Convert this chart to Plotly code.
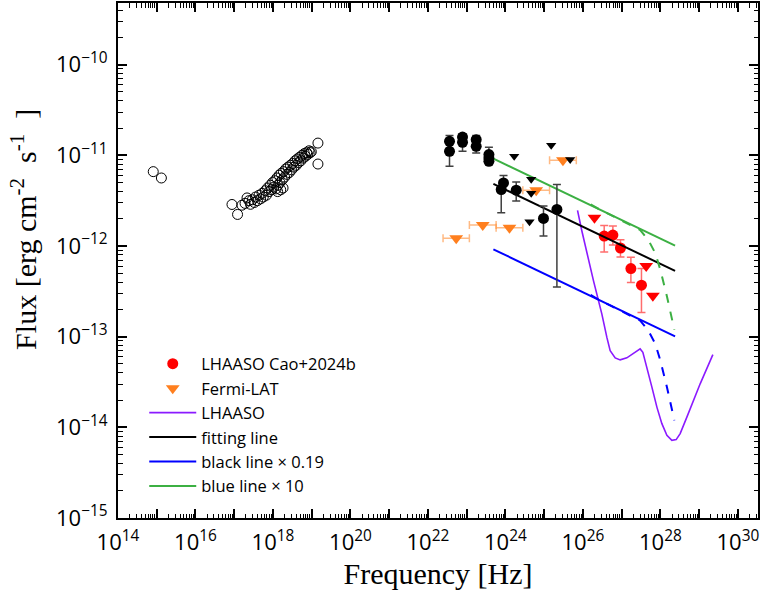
import numpy as np
import plotly.graph_objects as go

# ---------------- data (log10 values) ----------------
# open circles (optical / X-ray)
open_lognu = [14.91, 15.12, 16.942, 17.086,
              17.20, 17.28, 17.33, 17.38, 17.42, 17.47, 17.52, 17.55, 17.60, 17.64,
              17.68, 17.72, 17.75, 17.80, 17.83, 17.86, 17.90, 17.93, 17.96, 17.99,
              18.02, 18.05, 18.08, 18.10, 18.12, 18.13, 18.16, 18.18, 18.20, 18.21,
              18.24, 18.26, 18.27, 18.30, 18.33, 18.36, 18.39, 18.42, 18.45, 18.48,
              18.51, 18.54, 18.57, 18.60, 18.63, 18.66, 18.69, 18.72, 18.75, 18.78,
              18.81, 18.84, 18.87, 18.90, 18.93, 18.96, 18.99, 19.161, 19.161]
open_logF = [-11.18, -11.25, -11.542, -11.652,
             -11.55, -11.53, -11.47, -11.50, -11.54, -11.49, -11.52, -11.46, -11.50, -11.44,
             -11.48, -11.42, -11.46, -11.39, -11.44, -11.36, -11.40, -11.33, -11.38, -11.30,
             -11.35, -11.28, -11.37, -11.25, -11.40, -11.33, -11.22, -11.30, -11.38, -11.20,
             -11.27, -11.36, -11.18, -11.24, -11.15, -11.21, -11.13, -11.19, -11.11, -11.16,
             -11.09, -11.13, -11.06, -11.11, -11.04, -11.08, -11.02, -11.06, -11.00, -11.03,
             -10.98, -11.01, -10.97, -10.99, -10.95, -10.97, -10.96, -10.865, -11.096]

# black filled circles with error bars
blk_lognu = [22.557, 22.557, 22.893, 22.893, 23.246, 23.246, 23.574, 23.574, 23.574,
             23.951, 23.892, 24.279, 24.983, 25.329]
blk_logF = [-10.846, -10.956, -10.799, -10.857, -10.827, -10.901, -10.992, -11.030, -11.066,
            -11.304, -11.377, -11.385, -11.696, -11.597]
blk_logHi = [-10.780, -10.956, -10.762, -10.857, -10.780, -10.901, -10.912, -11.030, -11.066,
             -11.223, -11.377, -11.293, -11.560, -11.322]
blk_logLo = [-10.846, -11.121, -10.799, -10.956, -10.827, -10.975, -10.992, -11.030, -11.096,
             -11.304, -11.634, -11.505, -11.890, -12.451]

# black upper limits
blkul_lognu = [24.227, 24.666, 24.666, 24.622, 25.182, 25.672]
blkul_logF = [-11.011, -11.264, -11.418, -11.733, -10.890, -11.047]

# Fermi-LAT
fermi_edges = [22.39, 23.07, 23.76, 24.45, 25.14, 25.83]
fermi_logF = [-11.915, -11.769, -11.799, -11.385, -11.055]

# LHAASO Cao+2024b
lh_lognu = [26.550, 26.774, 26.970, 27.239, 27.512]
lh_logF = [-11.890, -11.879, -12.022, -12.249, -12.432]
lh_logHi = [-11.773, -11.780, -11.931, -12.124, -12.249]
lh_logLo = [-12.066, -11.989, -12.121, -12.403, -12.733]
lhul_lognu = [26.299, 27.634, 27.806]
lhul_logF = [-11.689, -12.220, -12.549]

# LHAASO sensitivity
sens_lognu = [25.861, 25.974, 26.274, 26.490, 26.619, 26.704, 26.834, 26.963, 27.135, 27.350,
              27.478, 27.548, 27.652, 27.781, 27.910, 28.039, 28.168, 28.297, 28.408, 28.511,
              28.684, 29.027, 29.355]
sens_logF = [-11.608, -11.835, -12.385, -12.751, -13.008, -13.154, -13.234, -13.256, -13.234,
             -13.173, -13.135, -13.173, -13.337, -13.557, -13.777, -13.959, -14.088, -14.143,
             -14.135, -14.069, -13.887, -13.520, -13.198]

# fitting line
fit_lognu = [23.69, 28.38]
fit_logF = [-11.315, -12.275]
scale_blue = 0.19
scale_green = 10

# absorbed blue line (dashed)
abs_lognu = [26.20, 26.36, 26.70, 26.96, 27.22, 27.48, 27.69, 27.87, 28.00, 28.17, 28.36]
abs_logF = [-12.540, -12.580, -12.655, -12.714, -12.769, -12.824, -12.934, -13.080, -13.264,
            -13.557, -13.923]

# ---------------- helpers ----------------
p = lambda a: 10 ** np.array(a, dtype=float)

RED = "#ff0000"
ORANGE = "#ff7f1e"
PURPLE = "#8b1aff"
BLUE = "#0000ff"
GREEN = "#3cb043"

fig = go.Figure()

# legend entries first (order)
lhF = p(lh_logF)
fig.add_trace(go.Scatter(
    x=p(lh_lognu), y=lhF, mode="markers", name="LHAASO Cao+2024b",
    marker=dict(symbol="circle", size=11, color=RED),
    error_y=dict(type="data", array=p(lh_logHi) - lhF, arrayminus=lhF - p(lh_logLo),
                 color="rgba(255,60,60,0.75)", thickness=1.5, width=4)))

fe = np.array(fermi_edges)
fc = (fe[:-1] + fe[1:]) / 2
fx = p(fc)
fig.add_trace(go.Scatter(
    x=fx, y=p(fermi_logF), mode="markers", name="Fermi-LAT",
    marker=dict(symbol="triangle-down", size=12, color=ORANGE),
    error_x=dict(type="data", array=p(fe[1:]) - fx, arrayminus=fx - p(fe[:-1]),
                 color="rgba(255,140,50,0.6)", thickness=1.5, width=4)))

fig.add_trace(go.Scatter(x=p(sens_lognu), y=p(sens_logF), mode="lines", name="LHAASO",
                         line=dict(color=PURPLE, width=1.6)))

fit_x = p(fit_lognu)
fit_y = p(fit_logF)
fig.add_trace(go.Scatter(x=fit_x, y=fit_y, mode="lines", name="fitting line",
                         line=dict(color="black", width=2)))
fig.add_trace(go.Scatter(x=fit_x, y=fit_y * scale_blue, mode="lines", name="black line × 0.19",
                         line=dict(color=BLUE, width=2)))
fig.add_trace(go.Scatter(x=fit_x, y=fit_y * scale_blue * scale_green, mode="lines",
                         name="blue line × 10", line=dict(color=GREEN, width=2)))

# dashed absorbed curves
abs_x = p(abs_lognu)
abs_y = p(abs_logF)
fig.add_trace(go.Scatter(x=abs_x, y=abs_y, mode="lines", showlegend=False,
                         line=dict(color=BLUE, width=2, dash="dash")))
fig.add_trace(go.Scatter(x=abs_x, y=abs_y * scale_green, mode="lines", showlegend=False,
                         line=dict(color=GREEN, width=2, dash="dash")))

# open circles
fig.add_trace(go.Scatter(x=p(open_lognu), y=p(open_logF), mode="markers", showlegend=False,
                         marker=dict(symbol="circle-open", size=10, color="black",
                                     line=dict(width=1))))

# black points
bF = p(blk_logF)
fig.add_trace(go.Scatter(
    x=p(blk_lognu), y=bF, mode="markers", showlegend=False,
    marker=dict(symbol="circle", size=11, color="black"),
    error_y=dict(type="data", array=p(blk_logHi) - bF, arrayminus=bF - p(blk_logLo),
                 color="#404040", thickness=1.5, width=4)))
fig.add_trace(go.Scatter(x=p(blkul_lognu), y=p(blkul_logF), mode="markers", showlegend=False,
                         marker=dict(symbol="triangle-down", size=9, color="black")))

# red upper limits
fig.add_trace(go.Scatter(x=p(lhul_lognu), y=p(lhul_logF), mode="markers", showlegend=False,
                         marker=dict(symbol="triangle-down", size=12, color=RED)))

# ---------------- axes ----------------
xt = [10.0 ** k for k in range(14, 31)]
xtt = ["10<sup>%d</sup>" % k if k % 2 == 0 else "" for k in range(14, 31)]
yt = [10.0 ** k for k in range(-15, -9)]
ytt = ["10<sup>\u2212%d</sup>" % (-k) for k in range(-15, -9)]

axis_common = dict(type="log", showgrid=False, zeroline=False, showline=True,
                   linecolor="black", linewidth=2, mirror="ticks", ticks="inside",
                   ticklen=9, tickwidth=1.5, tickcolor="black",
                   tickfont=dict(family="Open Sans, sans-serif", size=22, color="black"),
                   minor=dict(ticks="inside", ticklen=4.5, tickwidth=1, tickcolor="black",
                              dtick="D1", showgrid=False))

SERIF = "Liberation Serif, Times New Roman, serif"
fig.update_xaxes(range=[14, 30.52], tickmode="array", tickvals=xt, ticktext=xtt,
                 ticklabelstandoff=4,
                 title=dict(text="Frequency [Hz]", standoff=8,
                            font=dict(family=SERIF, size=30, color="black")),
                 **axis_common)
fig.update_yaxes(range=[-15, -9.32], tickmode="array", tickvals=yt, ticktext=ytt,
                 ticklabelstandoff=4, **axis_common)

fig.add_annotation(
    text="Flux [erg cm<sup>-2</sup>\u2002s<sup>-1</sup>\u2002]",
    xref="paper", yref="paper", x=-0.148, y=0.56, xanchor="center", yanchor="middle",
    textangle=-90, showarrow=False,
    font=dict(family=SERIF, size=30, color="black"))

fig.update_layout(
    width=762, height=598,
    margin=dict(l=118, r=4, t=1, b=80),
    plot_bgcolor="white", paper_bgcolor="white",
    legend=dict(x=0.041, y=0.333, xanchor="left", yanchor="top",
                bgcolor="rgba(0,0,0,0)", borderwidth=0,
                font=dict(family="Open Sans, sans-serif", size=16.5, color="black"),
                itemwidth=47, tracegroupgap=0),
)

fig.write_html("out.html")
